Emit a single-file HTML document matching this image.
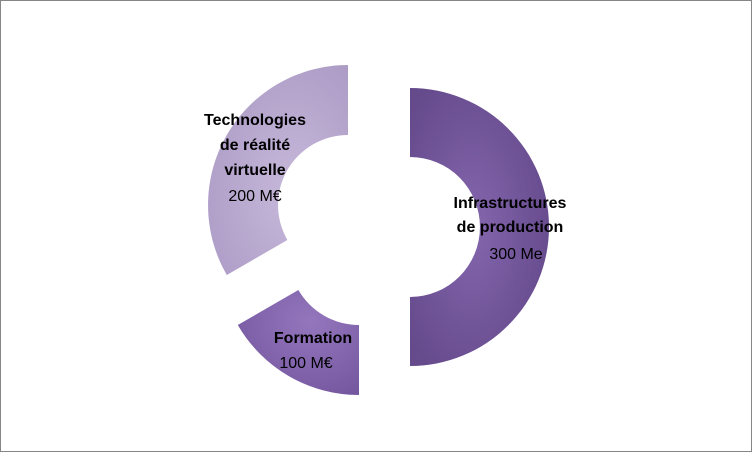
<!DOCTYPE html>
<html><head><meta charset="utf-8"><style>
html,body{margin:0;padding:0;background:#fff}
svg{display:block}
text{font-family:"Liberation Sans",sans-serif;font-size:16px;fill:#000;text-anchor:middle}
.b{font-weight:bold}
</style></head><body>
<svg width="752" height="452" viewBox="0 0 752 452">
<defs>
<radialGradient id="g1" cx="0.45" cy="0.5" r="0.6"><stop offset="0" stop-color="#8466ad"/><stop offset="1" stop-color="#654a8c"/></radialGradient>
<radialGradient id="g2" cx="0.6" cy="0.6" r="0.7"><stop offset="0" stop-color="#c6b8da"/><stop offset="1" stop-color="#ad9cc6"/></radialGradient>
<radialGradient id="g3" cx="0.6" cy="0.3" r="0.8"><stop offset="0" stop-color="#9476bd"/><stop offset="1" stop-color="#74569f"/></radialGradient>
</defs>
<rect x="0.5" y="0.5" width="751" height="451" fill="#fff" stroke="#868686"/>
<path d="M410,88 A139,139 0 0 1 410,366 L410,297 A70,70 0 0 0 410,157 Z" fill="url(#g1)"/>
<path d="M226.8,275 A140,140 0 0 1 348,65 L348,135 A70,70 0 0 0 287.4,240 Z" fill="url(#g2)"/>
<path d="M359,395 A140,140 0 0 1 237.8,325 L298.4,290 A70,70 0 0 0 359,325 Z" fill="url(#g3)"/>
<text class="b" x="255" y="125">Technologies</text>
<text class="b" x="255" y="150">de réalité</text>
<text class="b" x="255" y="175">virtuelle</text>
<text x="255" y="201">200 M€</text>
<text class="b" x="510" y="208">Infrastructures</text>
<text class="b" x="510" y="232">de production</text>
<text x="516" y="259">300 Me</text>
<text class="b" x="313" y="343">Formation</text>
<text x="306" y="368">100 M€</text>
</svg>
</body></html>
